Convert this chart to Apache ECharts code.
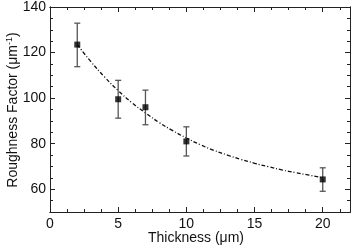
<!DOCTYPE html>
<html>
<head>
<meta charset="utf-8">
<script src="https://cdn.jsdelivr.net/npm/echarts@6/dist/echarts.min.js"></script>
<style>
html,body{margin:0;padding:0;background:#fff;}
#c{width:354px;height:248px;}
</style>
</head>
<body>
<div id="c"></div>
<script>
// Measured points
var thickness = [2, 5, 7, 10, 20];
var roughness = [123.5, 99.5, 96, 81, 64.3];
var errLow = [113.8, 91.2, 88.3, 74.6, 59.1];
var errHigh = [132.9, 107.8, 103.5, 87.4, 69.4];
// Fitted curve
var fitX = [2, 3, 4, 5, 6, 7, 8, 9, 10, 11, 12, 13, 14, 15, 16, 17, 18, 19, 20];
var fitY = [123.5, 116, 109.3, 103.3, 98, 93.5, 89.3, 85.7, 82.5, 79.6, 77.1, 75, 73.1, 71.4, 69.9, 68.5, 67.3, 66.2, 65.0];
// Axis ticks
var xMajor = [0, 5, 10, 15, 20];
var xMinor = [1.25, 2.5, 3.75, 6.25, 7.5, 8.75, 11.25, 12.5, 13.75, 16.25, 17.5, 18.75, 21.25];
var yMajor = [60, 80, 100, 120, 140];
var yMinor = [55, 65, 70, 75, 85, 90, 95, 105, 110, 115, 125, 130, 135];
var xTitle = 'Thickness (\u03bcm)';
var yTitle = 'Roughness Factor (\u03bcm{sup|-1})';

var FONT = 'Liberation Sans, Arial, sans-serif';
var axisLine = {show: true, onZero: false, lineStyle: {color: '#222', width: 1}};

function xAxisDef(pos, major, labels) {
  return {
    type: 'value', min: 0, max: 22, position: pos,
    axisLine: axisLine,
    splitLine: {show: false},
    axisTick: {show: true, inside: true, length: major ? 5 : 3, lineStyle: {color: '#222'},
      customValues: major ? xMajor : xMinor},
    axisLabel: {show: labels, customValues: xMajor, color: '#111', fontSize: 14, fontFamily: FONT, margin: 5}
  };
}
function yAxisDef(pos, major, labels) {
  return {
    type: 'value', min: 50, max: 140, position: pos,
    axisLine: axisLine,
    splitLine: {show: false},
    axisTick: {show: true, inside: true, length: major ? 5 : 3, lineStyle: {color: '#222'},
      customValues: major ? yMajor : yMinor},
    axisLabel: {show: labels, customValues: yMajor, color: '#111', fontSize: 14, fontFamily: FONT, margin: 4}
  };
}

var chart = echarts.init(document.getElementById('c'), null, {renderer: 'canvas'});
var errData = thickness.map(function (t, i) { return [t, errLow[i], errHigh[i]]; });
var ptData = thickness.map(function (t, i) { return [t, roughness[i]]; });
var fitData = fitX.map(function (t, i) { return [t, fitY[i]]; });

chart.setOption({
  animation: false,
  backgroundColor: '#fff',
  grid: {left: 50, right: 4, top: 7, bottom: 36, containLabel: false, outerBoundsMode: 'none'},
  xAxis: [xAxisDef('bottom', true, true), xAxisDef('bottom', false, false), xAxisDef('top', true, false), xAxisDef('top', false, false)],
  yAxis: [yAxisDef('left', true, true), yAxisDef('left', false, false), yAxisDef('right', true, false), yAxisDef('right', false, false)],
  graphic: [
    {type: 'text', x: 196, y: 238, silent: true,
      style: {text: xTitle, fill: '#111', fontSize: 14, fontFamily: FONT, align: 'center', verticalAlign: 'middle'}},
    {type: 'text', x: 13, y: 110, rotation: Math.PI / 2, silent: true,
      style: {text: yTitle, fill: '#111', fontSize: 14, fontFamily: FONT, align: 'center', verticalAlign: 'middle',
        rich: {sup: {fontSize: 9, fontFamily: FONT, fill: '#111', padding: [0, 0, 7, 0]}}}}
  ],
  series: [
    {
      type: 'line', data: fitData, smooth: true, showSymbol: false, symbol: 'none',
      lineStyle: {color: '#111', width: 1.3, type: [4, 2, 1, 2]}, z: 2
    },
    {
      type: 'custom', data: errData, z: 3,
      renderItem: function (params, api) {
        var x = api.value(0);
        var lo = api.coord([x, api.value(1)]);
        var hi = api.coord([x, api.value(2)]);
        var w = 3;
        var st = {stroke: '#555', lineWidth: 1.3, fill: null};
        return {type: 'group', children: [
          {type: 'line', shape: {x1: lo[0], y1: lo[1], x2: hi[0], y2: hi[1]}, style: st},
          {type: 'line', shape: {x1: lo[0] - w, y1: lo[1], x2: lo[0] + w, y2: lo[1]}, style: st},
          {type: 'line', shape: {x1: hi[0] - w, y1: hi[1], x2: hi[0] + w, y2: hi[1]}, style: st}
        ]};
      }
    },
    {
      type: 'scatter', data: ptData, symbol: 'rect', symbolSize: 6,
      itemStyle: {color: '#000'}, z: 4
    }
  ]
});
</script>
</body>
</html>
